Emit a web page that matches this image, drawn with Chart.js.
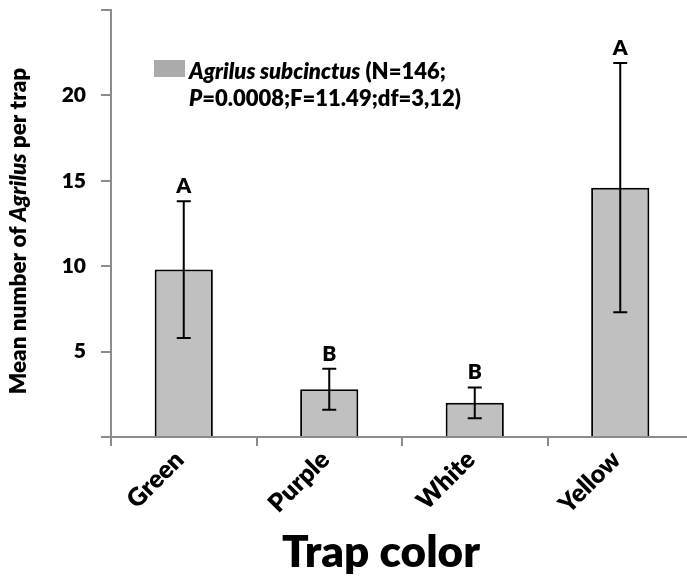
<!DOCTYPE html>
<html>
<head>
<meta charset="utf-8">
<script src="https://cdn.jsdelivr.net/npm/chart.js@4"></script>
<style>
  html, body { margin: 0; padding: 0; background: #fff; overflow: hidden; }
  #wrap { width: 700px; height: 580px; }
</style>
</head>
<body>
<div id="wrap"><canvas id="trapChart" width="700" height="580"></canvas></div>
<script>
const categories = ["Green", "Purple", "White", "Yellow"];
const meanCounts = [9.8, 2.8, 2.0, 14.6];
const errLow = [5.8, 1.6, 1.1, 7.3];
const errHigh = [13.8, 4.0, 2.9, 21.9];
const groupLetters = ["A", "B", "B", "A"];
const yTickShown = [5, 10, 15, 20];

const FONT = "Lato, Calibri, 'Open Sans', sans-serif";
const WEIGHT = "800";
const AXIS_GREY = "#8c8c8c";

// draw a line of text made of plain and italic pieces
function drawRuns(ctx, runs, x, y, size, align) {
  let total = 0;
  runs.forEach(r => {
    ctx.font = (r.italic ? "italic " : "") + WEIGHT + " " + size + "px " + FONT;
    r.w = ctx.measureText(r.text).width;
    total += r.w;
  });
  let cx = align === "center" ? x - total / 2 : x;
  ctx.textAlign = "left";
  runs.forEach(r => {
    ctx.font = (r.italic ? "italic " : "") + WEIGHT + " " + size + "px " + FONT;
    ctx.fillText(r.text, cx, y);
    cx += r.w;
  });
}

const errorBars = {
  id: "errorBars",
  afterDatasetsDraw(chart) {
    const ctx = chart.ctx;
    const y = chart.scales.y;
    const bars = chart.getDatasetMeta(0).data;
    ctx.save();
    ctx.strokeStyle = "#000";
    ctx.lineWidth = 2;
    bars.forEach((bar, i) => {
      const top = y.getPixelForValue(errHigh[i]);
      const bot = y.getPixelForValue(errLow[i]);
      ctx.beginPath();
      ctx.moveTo(bar.x, top); ctx.lineTo(bar.x, bot);
      ctx.moveTo(bar.x - 7, top); ctx.lineTo(bar.x + 7, top);
      ctx.moveTo(bar.x - 7, bot); ctx.lineTo(bar.x + 7, bot);
      ctx.stroke();
      ctx.fillStyle = "#000";
      ctx.font = WEIGHT + " 21px " + FONT;
      ctx.textAlign = "center";
      ctx.textBaseline = "alphabetic";
      ctx.fillText(groupLetters[i], bar.x, top - 8);
    });
    ctx.restore();
  }
};

const textLayer = {
  id: "textLayer",
  afterDraw(chart) {
    const ctx = chart.ctx;
    ctx.save();
    ctx.fillStyle = "#000";
    ctx.textBaseline = "alphabetic";

    // y axis title
    ctx.save();
    ctx.translate(26, 231);
    ctx.rotate(-Math.PI / 2);
    drawRuns(ctx, [
      { text: "Mean number of " },
      { text: "Agrilus", italic: true },
      { text: " per trap" }
    ], 0, 0, 22.5, "center");
    ctx.restore();

    // x axis title
    ctx.font = WEIGHT + " 44px " + FONT;
    ctx.textAlign = "center";
    ctx.fillText("Trap color", 381, 567);

    // legend
    ctx.fillStyle = "#ababab";
    ctx.fillRect(154, 60, 31, 17);
    ctx.fillStyle = "#000";
    drawRuns(ctx, [
      { text: "Agrilus subcinctus", italic: true },
      { text: " (N=146;" }
    ], 189, 79, 22, "left");
    drawRuns(ctx, [
      { text: "P", italic: true },
      { text: "=0.0008;F=11.49;df=3,12)" }
    ], 189, 106, 22, "left");
    ctx.restore();
  }
};

new Chart(document.getElementById("trapChart"), {
  type: "bar",
  data: {
    labels: categories,
    datasets: [{
      label: "Agrilus subcinctus",
      data: meanCounts,
      backgroundColor: "#c0c0c0",
      borderColor: "#000",
      borderWidth: 2,
      categoryPercentage: 1,
      barPercentage: 0.4
    }]
  },
  options: {
    responsive: false,
    animation: false,
    layout: { padding: { left: 0, top: 10, right: 7, bottom: 0 } },
    plugins: { legend: { display: false }, tooltip: { enabled: false } },
    scales: {
      x: {
        grid: { drawOnChartArea: false, drawTicks: true, tickLength: 9, color: AXIS_GREY, lineWidth: 2 },
        border: { color: AXIS_GREY, width: 2 },
        ticks: {
          color: "#000", autoSkip: false, minRotation: 45, maxRotation: 45, padding: -1, labelOffset: -4,
          font: { family: FONT, size: 25, weight: WEIGHT }
        },
        afterFit(scale) {
          scale.height = 143;
          scale.paddingLeft = 0; scale.paddingRight = 0;
        }
      },
      y: {
        min: 0, max: 25,
        grid: { drawOnChartArea: false, drawTicks: true, tickLength: 10, color: AXIS_GREY, lineWidth: 2 },
        border: { color: AXIS_GREY, width: 2 },
        ticks: {
          stepSize: 5, color: "#000", padding: 15,
          font: { family: FONT, size: 21, weight: WEIGHT },
          callback: v => yTickShown.includes(v) ? String(v) : ""
        },
        afterFit(scale) {
          scale.width = 111;
          scale.paddingTop = 0; scale.paddingBottom = 0;
        }
      }
    }
  },
  plugins: [errorBars, textLayer]
});
</script>
</body>
</html>
